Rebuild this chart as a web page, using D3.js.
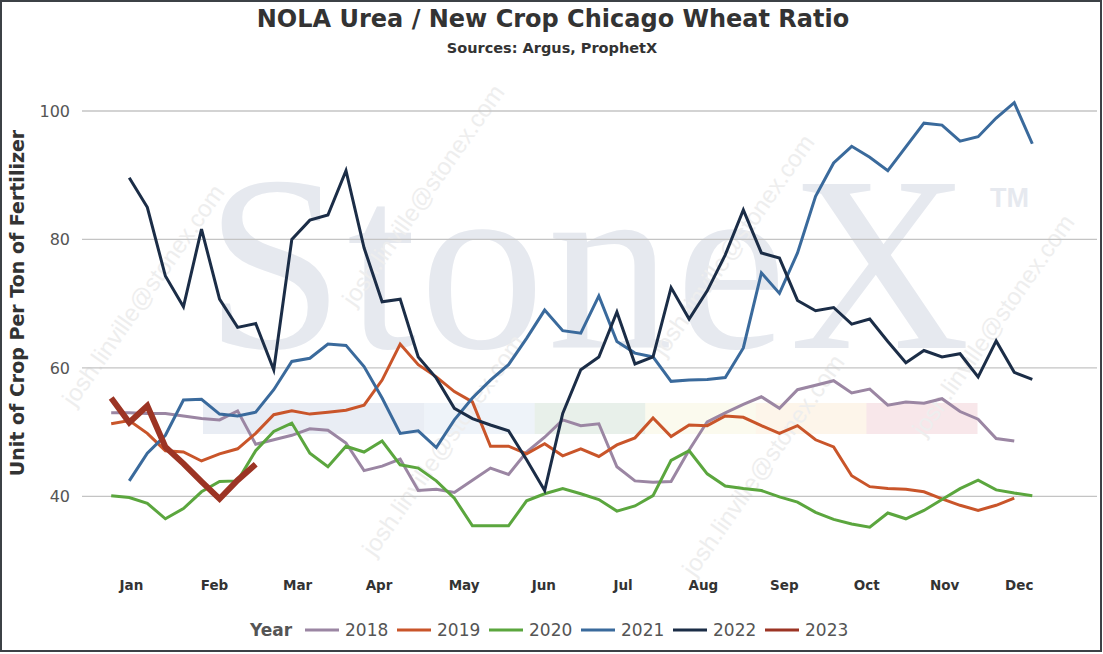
<!DOCTYPE html>
<html>
<head>
<meta charset="utf-8">
<script src="https://cdn.jsdelivr.net/npm/d3@7"></script>
<style>
    body { margin: 0; background: #fff; }
    svg { display: block; font-family: "DejaVu Sans", Verdana, sans-serif; }
</style>
</head>
<body>
<div id="container"></div>
<script>
let WIDTH = 1103;
let HEIGHT = 654;

// week index 0..51 on the x axis, month labels sit at these week positions
let months = ["Jan", "Feb", "Mar", "Apr", "May", "Jun", "Jul", "Aug", "Sep", "Oct", "Nov", "Dec"];
let monthWeeks = [1.12, 5.72, 10.32, 14.83, 19.54, 23.95, 28.34, 32.79, 37.27, 41.83, 46.15, 50.28];
let yTicks = [40, 60, 80, 100];

let years = ["2018", "2019", "2020", "2021", "2022", "2023"];
let colors = ["#9b86a3", "#c9552a", "#5ba63e", "#3a6a9c", "#1b2d47", "#9c3424"];

let y2018 = [53.0, 53.0, 52.9, 52.9, 52.5, 52.1, 51.9, 53.3, 48.1, 48.8, 49.5, 50.5, 50.3, 48.3, 44.0, 44.7,
    45.8, 40.9, 41.1, 40.6, 42.5, 44.4, 43.4, 46.9, 49.2, 51.9, 51.0, 51.3, 44.6, 42.4, 42.2, 42.3, 47.2,
    51.6, 53.0, 54.3, 55.5, 53.7, 56.6, 57.3, 58.0, 56.1, 56.7, 54.2, 54.7, 54.5, 55.2, 53.2, 52.0, 49.0, 48.6];
let y2019 = [51.3, 51.8, 49.8, 47.1, 46.9, 45.5, 46.6, 47.4, 49.8, 52.7, 53.3, 52.8, 53.1, 53.4, 54.2, 58.1,
    63.7, 60.5, 58.6, 56.3, 54.7, 47.8, 47.8, 46.6, 48.2, 46.3, 47.4, 46.2, 48.0, 49.1, 52.2, 49.3, 51.1,
    51.0, 52.5, 52.3, 51.0, 49.8, 51.0, 48.8, 47.7, 43.2, 41.5, 41.2, 41.1, 40.7, 39.6, 38.6, 37.8, 38.6, 39.7];
let y2020 = [40.1, 39.8, 38.9, 36.5, 38.1, 40.7, 42.3, 42.4, 47.1, 50.1, 51.4, 46.7, 44.6, 47.8, 46.9, 48.6,
    44.9, 44.4, 42.4, 39.7, 35.4, 35.4, 35.4, 39.3, 40.4, 41.2, 40.4, 39.5, 37.7, 38.5, 40.1, 45.6, 47.1,
    43.5, 41.6, 41.2, 40.9, 39.9, 39.1, 37.5, 36.4, 35.7, 35.2, 37.4, 36.5, 37.8, 39.5, 41.2, 42.5, 41.0,
    40.5, 40.1];
let y2021 = [null, 42.4, 46.7, 49.5, 55.0, 55.1, 52.8, 52.5, 53.1, 56.6, 61.0, 61.5, 63.7, 63.5, 60.2, 55.3,
    49.8, 50.2, 47.6, 51.9, 55.3, 58.1, 60.5, 64.6, 69.0, 65.8, 65.4, 71.2, 64.1, 62.3, 61.7, 57.9, 58.1,
    58.2, 58.5, 63.1, 74.8, 71.6, 77.9, 86.7, 91.9, 94.5, 92.8, 90.7, 94.4, 98.1, 97.8, 95.3, 96.0, 98.9,
    101.3, 94.9];
let y2022 = [null, 89.6, 85.0, 74.3, 69.5, 81.6, 70.7, 66.3, 66.9, 59.7, 80.0, 83.0, 83.8, 90.7, 78.7, 70.3,
    70.7, 61.7, 58.4, 53.7, 52.1, 51.1, 50.2, 45.7, 40.9, 52.9, 59.7, 61.7, 68.7, 60.6, 61.7, 72.5, 67.6,
    72.0, 77.6, 84.6, 77.9, 77.1, 70.5, 68.9, 69.4, 66.8, 67.6, 64.1, 60.8, 62.7, 61.7, 62.2, 58.6, 64.2,
    59.3, 58.2];
let y2023 = [55.3, 51.5, 54.1, 47.7, 45.1, 42.3, 39.6, 42.5, 45.0];

let series = [y2018, y2019, y2020, y2021, y2022, y2023];

// faint logo band colours behind the plot
let bandColors = ["#e9edf4", "#e9edf4", "#eef3f9", "#e8f0ea", "#fbfaee", "#fdf5ea", "#f8e7ea"];

let svg = d3.select("#container")
    .append("svg")
    .attr("width", WIDTH)
    .attr("height", HEIGHT);

let x = d3.scaleLinear().domain([0, 51]).range([111.2, 1032.3]);
let y = d3.scaleLinear().domain([40, 100]).range([496.3, 111]);
let plotLeft = 82;
let plotRight = 1097;

// watermark
let wm = svg.append("g").attr("class", "watermark");
wm.append("text")
    .attr("x", 205)
    .attr("y", 348)
    .attr("textLength", 765)
    .attr("lengthAdjust", "spacing")
    .style("font-family", "'Liberation Serif', 'DejaVu Serif', serif")
    .style("font-size", "250px")
    .style("fill", "#e6e9ef")
    .text("StoneX");
wm.append("text")
    .attr("x", 990)
    .attr("y", 207)
    .style("font-family", "'Liberation Sans', sans-serif")
    .style("font-weight", "bold")
    .style("font-size", "27px")
    .style("fill", "#e6e9ef")
    .text("TM");
let bandX = d3.scaleBand().domain(d3.range(bandColors.length)).range([203, 977]);
wm.selectAll("rect.band")
    .data(bandColors)
    .enter()
    .append("rect")
    .attr("class", "band")
    .attr("x", (d, i) => bandX(i))
    .attr("y", 403)
    .attr("width", bandX.bandwidth() + 0.5)
    .attr("height", 31)
    .style("fill", d => d);

// email watermark, kept fully inside the frame
let mailSpots = [[150, 300], [430, 200], [450, 450], [740, 250], [770, 470], [1000, 330]];
wm.selectAll("text.mail")
    .data(mailSpots)
    .enter()
    .append("text")
    .attr("class", "mail")
    .attr("transform", d => "translate(" + d[0] + "," + d[1] + ") rotate(-55)")
    .attr("text-anchor", "middle")
    .style("font-family", "'Liberation Sans', sans-serif")
    .style("font-size", "24px")
    .style("fill", "#eeeeee")
    .text("josh.linville@stonex.com");

// grid
svg.append("g")
    .selectAll("line")
    .data(yTicks)
    .enter()
    .append("line")
    .attr("x1", plotLeft)
    .attr("x2", plotRight)
    .attr("y1", d => y(d))
    .attr("y2", d => y(d))
    .style("stroke", "#c4c4c4")
    .style("stroke-width", 1.3);

svg.append("g")
    .selectAll("text")
    .data(yTicks)
    .enter()
    .append("text")
    .attr("x", 70)
    .attr("y", d => y(d))
    .attr("dy", "0.36em")
    .attr("text-anchor", "end")
    .style("font-size", "16px")
    .style("fill", "#555")
    .text(d => d);

svg.append("g")
    .selectAll("text")
    .data(months)
    .enter()
    .append("text")
    .attr("x", (d, i) => x(monthWeeks[i]))
    .attr("y", 590)
    .attr("text-anchor", "middle")
    .style("font-size", "13.5px")
    .style("font-weight", "bold")
    .style("fill", "#333")
    .text(d => d);

// series
let line = d3.line()
    .defined(d => d != null)
    .x((d, i) => x(i))
    .y(d => y(d));

svg.append("g")
    .selectAll("path")
    .data(series)
    .enter()
    .append("path")
    .attr("d", d => line(d))
    .style("fill", "none")
    .style("stroke", (d, i) => colors[i])
    .style("stroke-width", (d, i) => i == 5 ? 6 : 3);

// titles
svg.append("text")
    .attr("x", 553)
    .attr("y", 27)
    .attr("text-anchor", "middle")
    .style("font-size", "24px")
    .style("font-weight", "bold")
    .style("fill", "#333")
    .text("NOLA Urea / New Crop Chicago Wheat Ratio");
svg.append("text")
    .attr("x", 552)
    .attr("y", 53)
    .attr("text-anchor", "middle")
    .style("font-size", "14.5px")
    .style("font-weight", "bold")
    .style("fill", "#333")
    .text("Sources: Argus, ProphetX");
svg.append("text")
    .attr("transform", "translate(24,303) rotate(-90)")
    .attr("text-anchor", "middle")
    .style("font-size", "19px")
    .style("font-weight", "bold")
    .style("fill", "#333")
    .text("Unit of Crop Per Ton of Fertilizer");

// legend
let legend = svg.append("g").attr("transform", "translate(0,630)");
legend.append("text")
    .attr("x", 250)
    .attr("dy", "0.36em")
    .style("font-size", "17px")
    .style("font-weight", "bold")
    .style("fill", "#555")
    .text("Year");
let item = legend.selectAll("g.item")
    .data(years)
    .enter()
    .append("g")
    .attr("class", "item")
    .attr("transform", (d, i) => "translate(" + (305 + i * 92) + ",0)");
item.append("line")
    .attr("x1", 0)
    .attr("x2", 34)
    .style("stroke", (d, i) => colors[i])
    .style("stroke-width", 3);
item.append("text")
    .attr("x", 40)
    .attr("dy", "0.36em")
    .style("font-size", "17px")
    .style("fill", "#555")
    .text(d => d);

// outer frame
svg.append("rect")
    .attr("x", 1)
    .attr("y", 1)
    .attr("width", 1100)
    .attr("height", 650)
    .style("fill", "none")
    .style("stroke", "#3c4146")
    .style("stroke-width", 2);
</script>
</body>
</html>
